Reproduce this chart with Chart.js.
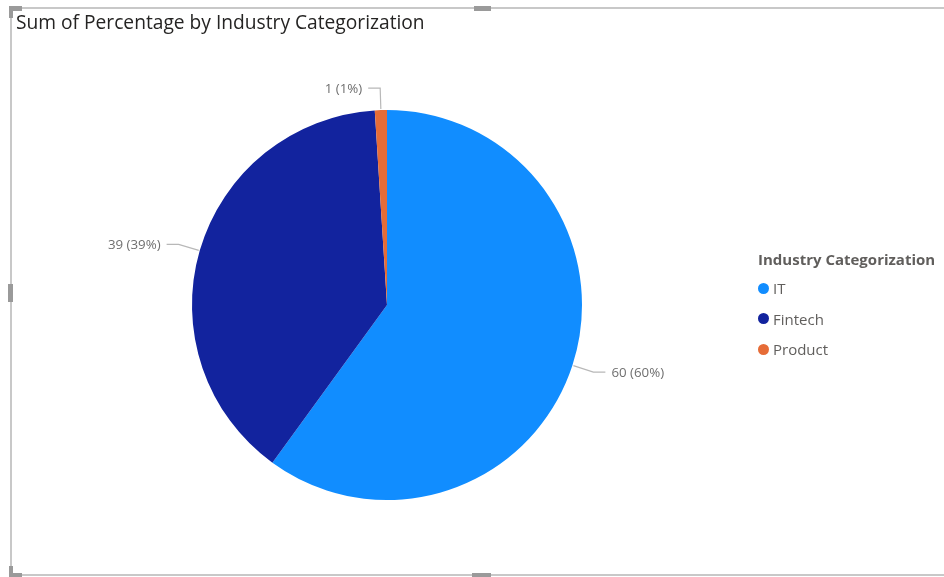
<!DOCTYPE html>
<html>
<head>
<meta charset="utf-8">
<script src="https://cdn.jsdelivr.net/npm/chart.js@4.4.1/dist/chart.umd.min.js"></script>
<style>
    body { margin: 0; background: #fff; width: 944px; height: 577px; overflow: hidden; position: relative; font-family: "Open Sans", sans-serif; }
    #chartWrap { position: absolute; left: 0; top: 0; width: 944px; height: 577px; }
    .title { position: absolute; left: 16px; top: 8px; font-size: 19.2px; color: #252423; white-space: nowrap; }
    .frame-h { position: absolute; height: 2px; background: #c8c8c8; }
    .frame-v { position: absolute; width: 2px; background: #c8c8c8; }
    .handle { position: absolute; background: #9a9a9a; }
    .legend { position: absolute; left: 758px; top: 249px; color: #605e5c; }
    .legend-title { font-weight: bold; font-size: 15px; margin-bottom: 4px; white-space: nowrap; }
    .legend-item { display: flex; align-items: center; height: 30.5px; font-size: 15px; }
    .legend-dot { width: 11px; height: 11px; border-radius: 50%; margin-right: 4px; }
</style>
</head>
<body>
<div class="frame-h" style="left:10px; top:7px; width:934px;"></div>
<div class="frame-v" style="left:10px; top:7px; height:569px;"></div>
<div class="frame-h" style="left:10px; top:574px; width:934px;"></div>
<div class="handle" style="left:9px; top:6px; width:13px; height:5px;"></div>
<div class="handle" style="left:9px; top:6px; width:4px; height:12px;"></div>
<div class="handle" style="left:474px; top:6px; width:17px; height:5px;"></div>
<div class="handle" style="left:8px; top:284px; width:5px; height:18px;"></div>
<div class="handle" style="left:472px; top:573px; width:19px; height:4px;"></div>
<div class="handle" style="left:9px; top:566px; width:4px; height:10px;"></div>
<div class="handle" style="left:9px; top:573px; width:13px; height:4px;"></div>

<div id="chartWrap"><canvas id="pieChart"></canvas></div>
<div class="title">Sum of Percentage by Industry Categorization</div>
<div class="legend" id="legend"></div>

<script>
const categories = ["IT", "Fintech", "Product"];
const values = [60, 39, 1];
const colors = ["#118DFF", "#12239E", "#E66C37"];
const legendTitle = "Industry Categorization";

// ── Legend ───────────────────────────────────────────────────
function buildLegend() {
    const box = document.getElementById("legend");
    let html = `<div class="legend-title">${legendTitle}</div>`;
    categories.forEach((c, i) => {
        html += `<div class="legend-item"><span class="legend-dot" style="background:${colors[i]}"></span>${c}</div>`;
    });
    box.innerHTML = html;
}
buildLegend();

// ── Data labels with leader lines ────────────────────────────
const leaderLabels = {
    id: "leaderLabels",
    afterDatasetsDraw(chart) {
        const ctx = chart.ctx;
        const meta = chart.getDatasetMeta(0);
        const total = values.reduce((a, b) => a + b, 0);
        ctx.save();
        ctx.font = '13.3px "Open Sans", sans-serif';
        ctx.textBaseline = "middle";
        meta.data.forEach((arc, i) => {
            const p = arc.getProps(["x", "y", "startAngle", "endAngle", "outerRadius"], true);
            const mid = (p.startAngle + p.endAngle) / 2;
            const cos = Math.cos(mid), sin = Math.sin(mid);
            const x0 = p.x + cos * (p.outerRadius + 1), y0 = p.y + sin * (p.outerRadius + 1);
            const x1 = p.x + cos * (p.outerRadius + 22), y1 = p.y + sin * (p.outerRadius + 22);
            const dir = cos >= 0 ? 1 : -1;
            const x2 = x1 + dir * 12;
            ctx.strokeStyle = "#b8b8b8";
            ctx.lineWidth = 1.2;
            ctx.beginPath();
            ctx.moveTo(x0, y0);
            ctx.lineTo(x1, y1);
            ctx.lineTo(x2, y1);
            ctx.stroke();
            const pct = Math.round(values[i] / total * 100);
            ctx.fillStyle = "#6f6f6f";
            ctx.textAlign = dir > 0 ? "left" : "right";
            ctx.fillText(`${values[i]} (${pct}%)`, x2 + dir * 6, y1 + 1);
        });
        ctx.restore();
    }
};

const chart = new Chart(document.getElementById("pieChart"), {
    type: "pie",
    data: {
        labels: categories,
        datasets: [{
            data: values,
            backgroundColor: colors,
            borderWidth: 0,
        }],
    },
    options: {
        responsive: true,
        maintainAspectRatio: false,
        animation: false,
        layout: { padding: { left: 192, right: 362, top: 110, bottom: 77 } },
        plugins: {
            legend: { display: false },
            tooltip: { enabled: false },
        },
    },
    plugins: [leaderLabels],
});
</script>
</body>
</html>
